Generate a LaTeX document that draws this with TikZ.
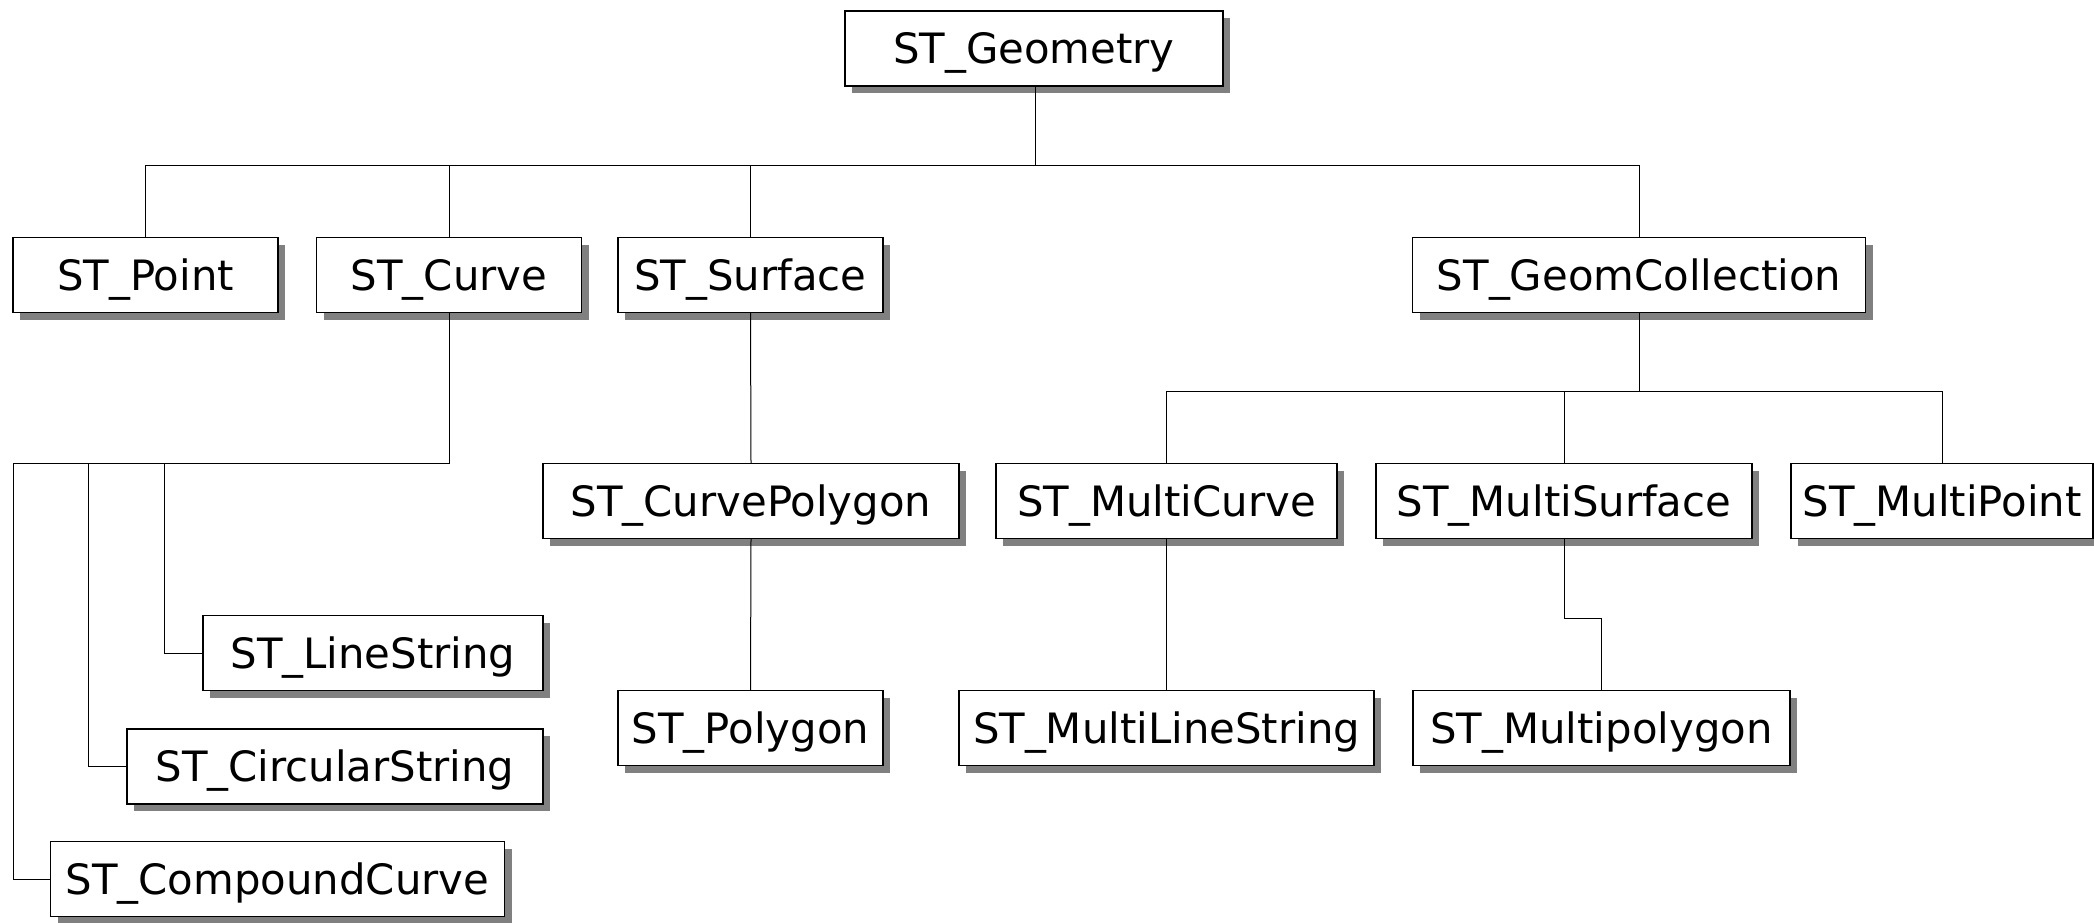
\documentclass[tikz,border=0pt]{standalone}
\usepackage{fontspec}
\setmainfont{DejaVu Sans}
\usetikzlibrary{shadows}
\begin{document}
\begin{tikzpicture}[x=0.5pt,y=-0.5pt,
  box/.style={draw=black, line width=0.6pt, fill=white, inner sep=0pt,
    minimum height=37.5pt, text height=15.2pt, text depth=0pt,
    font=\fontsize{20.9}{24}\selectfont,
    drop shadow={shadow xshift=3.5pt, shadow yshift=-3.5pt, fill=black!50, opacity=1}},
  link/.style={draw=black, line width=0.5pt}]
\useasboundingbox (0,0) rectangle (2094,922);
% top
\node[box, minimum width=189pt] (geom) at (1034,48.5) {ST\_Geometry};
% level 1
\node[box, minimum width=132.5pt] (point) at (145.5,275) {ST\_Point};
\node[box, minimum width=132.5pt] (curve) at (449,275) {ST\_Curve};
\node[box, minimum width=132.5pt] (surf) at (750.5,275) {ST\_Surface};
\node[box, minimum width=226.5pt] (gc) at (1639,275) {ST\_GeomCollection};
% curve children
\node[box, minimum width=170pt] (ls) at (373,653) {ST\_LineString};
\node[box, minimum width=208pt] (cs) at (335,766.5) {ST\_CircularString};
\node[box, minimum width=227pt] (cc) at (277.5,879) {ST\_CompoundCurve};
% surface children
\node[box, minimum width=208pt] (cp) at (751,501) {ST\_CurvePolygon};
\node[box, minimum width=132.5pt] (poly) at (750.5,728) {ST\_Polygon};
% collection children
\node[box, minimum width=170.5pt] (mc) at (1166.5,501) {ST\_MultiCurve};
\node[box, minimum width=188pt] (ms) at (1564,501) {ST\_MultiSurface};
\node[box, minimum width=151pt] (mp) at (1942,501) {ST\_MultiPoint};
\node[box, minimum width=207.5pt] (mls) at (1166.5,728) {ST\_MultiLineString};
\node[box, minimum width=188.5pt] (mpo) at (1601.5,728) {ST\_Multipolygon};
% junction coordinates
\coordinate (tbar) at (1035,165);
\coordinate (cbar) at (13.4,463);
\coordinate (cb1) at (164,463);
\coordinate (cb2) at (88,463);
\coordinate (gbar) at (1639,391);
\coordinate (elb) at (0,618);
% connectors
\draw[link] (geom.south -| tbar) -- (tbar);
\draw[link] (point.north) |- (tbar);
\draw[link] (curve.north) |- (tbar);
\draw[link] (surf.north) |- (tbar);
\draw[link] (gc.north) |- (tbar);
\draw[link] (curve.south) |- (cbar);
\draw[link] (cb1) |- (ls.west);
\draw[link] (cb2) |- (cs.west);
\draw[link] (cbar) |- (cc.west);
\draw[link] (surf.south) -- (cp.north);
\draw[link] (cp.south) -- (poly.north);
\draw[link] (gc.south) -- (gbar);
\draw[link] (mc.north) |- (gbar);
\draw[link] (ms.north) |- (gbar);
\draw[link] (mp.north) |- (gbar);
\draw[link] (mc.south) -- (mls.north);
\draw[link] (ms.south) -- (ms.south |- elb) -| (mpo.north);
\end{tikzpicture}
\end{document}
